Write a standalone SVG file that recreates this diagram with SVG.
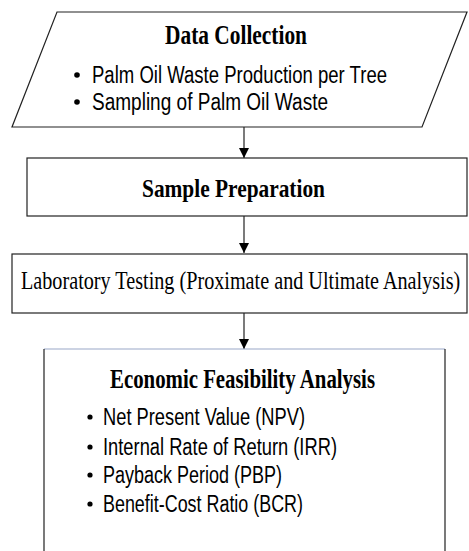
<svg xmlns="http://www.w3.org/2000/svg" width="469" height="551" viewBox="0 0 469 551">
<defs>
<style>
.box{fill:#fff;stroke:#222;stroke-width:1.2}
.ttl{font-family:"Liberation Serif",serif;font-weight:bold;fill:#000}
.lab{font-family:"Liberation Serif",serif;fill:#000}
.bul{font-family:"Liberation Sans",sans-serif;fill:#000}
.con{stroke:#222;stroke-width:1.2;fill:none}
</style>
<marker id="ah" viewBox="0 0 10 10" refX="10" refY="5" markerWidth="10" markerHeight="10" markerUnits="userSpaceOnUse" orient="auto">
<path d="M0,0 L10,5 L0,10 z" fill="#000"/>
</marker>
</defs>
<rect width="469" height="551" fill="#fff"/>
<g id="connectors">
<line class="con" x1="244" y1="127" x2="244" y2="158" marker-end="url(#ah)"/>
<line class="con" x1="244" y1="216" x2="244" y2="253" marker-end="url(#ah)"/>
<line class="con" x1="244" y1="313" x2="244" y2="349" marker-end="url(#ah)"/>
</g>
<g id="data-collection">
<polygon class="box" points="57,12 467,12 422,127 12,127"/>
<text class="ttl" x="165" y="44" font-size="28" textLength="142" lengthAdjust="spacingAndGlyphs">Data Collection</text>
<circle cx="77" cy="75" r="2.8" fill="#000"/>
<text class="bul" x="92" y="83" font-size="23" textLength="295" lengthAdjust="spacingAndGlyphs">Palm Oil Waste Production per Tree</text>
<circle cx="77" cy="102" r="2.8" fill="#000"/>
<text class="bul" x="92" y="110" font-size="23" textLength="236" lengthAdjust="spacingAndGlyphs">Sampling of Palm Oil Waste</text>
</g>
<g id="sample-preparation">
<rect class="box" x="27" y="158" width="440" height="58"/>
<text class="ttl" x="142" y="197" font-size="26" textLength="183" lengthAdjust="spacingAndGlyphs">Sample Preparation</text>
</g>
<g id="laboratory-testing">
<rect class="box" x="12" y="254" width="455" height="59"/>
<text class="lab" x="0" y="0" font-size="20" transform="translate(21,289) scale(1.01,1.22)">Laboratory Testing (Proximate and Ultimate Analysis)</text>
</g>
<g id="economic-feasibility">
<path d="M44,349 H445" stroke="#9aa8c8" stroke-width="1.2" fill="none"/>
<path d="M44,349 V551 M445,349 V551" class="con"/>
<text class="ttl" x="110" y="388" font-size="27" textLength="265" lengthAdjust="spacingAndGlyphs">Economic Feasibility Analysis</text>
<circle cx="90" cy="417" r="2.6" fill="#000"/>
<text class="bul" x="103" y="425" font-size="23" textLength="202" lengthAdjust="spacingAndGlyphs">Net Present Value (NPV)</text>
<circle cx="90" cy="447" r="2.6" fill="#000"/>
<text class="bul" x="103" y="455" font-size="23" textLength="234" lengthAdjust="spacingAndGlyphs">Internal Rate of Return (IRR)</text>
<circle cx="90" cy="475" r="2.6" fill="#000"/>
<text class="bul" x="103" y="483" font-size="23" textLength="179" lengthAdjust="spacingAndGlyphs">Payback Period (PBP)</text>
<circle cx="90" cy="504" r="2.6" fill="#000"/>
<text class="bul" x="103" y="512" font-size="23" textLength="200" lengthAdjust="spacingAndGlyphs">Benefit-Cost Ratio (BCR)</text>
</g>
</svg>
